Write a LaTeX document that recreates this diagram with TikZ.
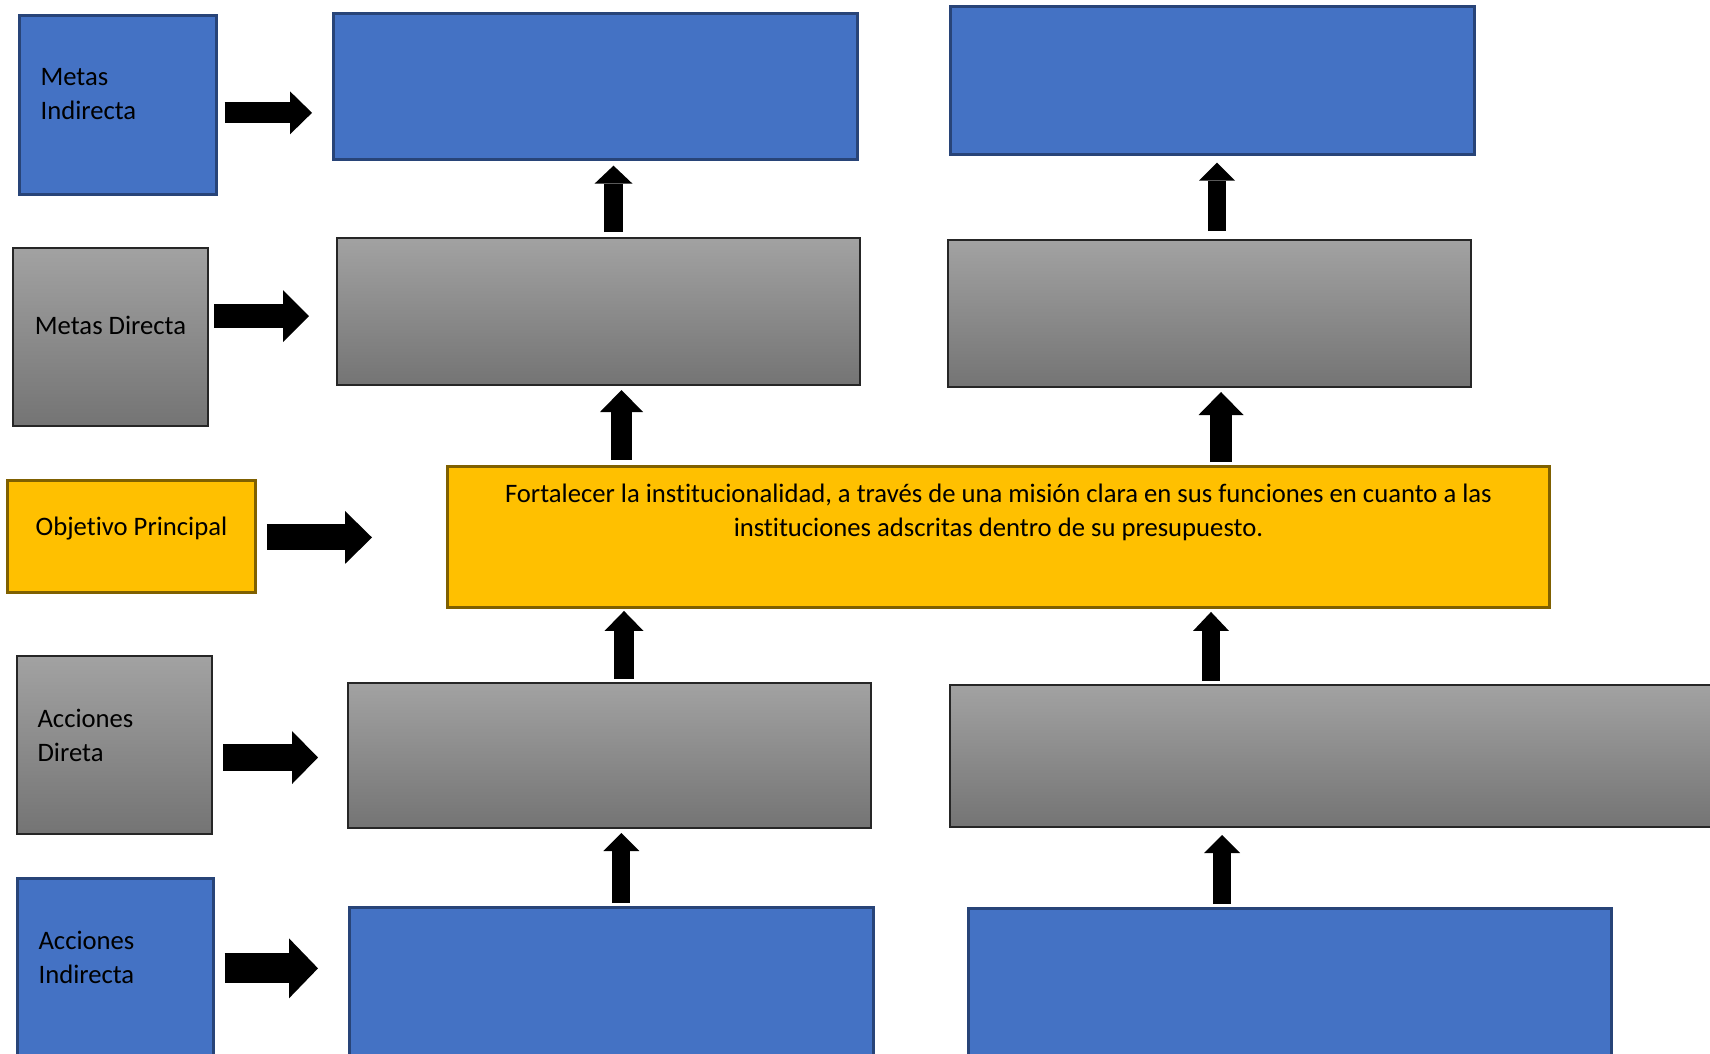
\documentclass[tikz,border=0pt]{standalone}
\usepackage{fontspec}
\setmainfont{Carlito}[Ligatures=NoCommon]
\usetikzlibrary{arrows.meta, positioning, calc}

\definecolor{boxblue}{RGB}{68,114,196}
\definecolor{blueline}{RGB}{40,68,120}
\definecolor{graytop}{RGB}{162,162,162}
\definecolor{graybot}{RGB}{116,116,116}
\definecolor{grayline}{RGB}{38,38,38}
\definecolor{objyellow}{RGB}{255,192,0}
\definecolor{objline}{RGB}{127,96,0}

% one unit = one pixel of the sketch = 0.375pt
\tikzset{
  boxsize/.style 2 args={minimum width=#1*0.375pt, minimum height=#2*0.375pt},
  bluebox/.style={draw=blueline, line width=1pt, fill=boxblue, anchor=north west, inner sep=0pt},
  graybox/.style={draw=grayline, line width=0.75pt, top color=graytop, bottom color=graybot, anchor=north west, inner sep=0pt},
  yellowbox/.style={draw=objline, line width=1.1pt, fill=objyellow, anchor=north west, inner sep=0pt},
  lbl/.style={font=\fontsize{10pt}{12.75pt}\selectfont, inner sep=0pt},
  gap/.style 2 args={shorten <=#1*0.375pt, shorten >=#2*0.375pt},
  blockarrow/.code n args={3}{%
    \pgfmathsetmacro\shaftw{#1*0.375}%
    \pgfmathsetmacro\headw{#2*0.375}%
    \pgfmathsetmacro\headl{#3*0.375}%
    \edef\next{\noexpand\tikzset{line width=\shaftw pt,
      -{Triangle[width=\headw pt, length=\headl pt, line width=0pt]}}}%
    \next}
}

\begin{document}
\begin{tikzpicture}[x=0.375pt, y=-0.375pt]
  \useasboundingbox (0,0) rectangle (1710,1053);

  % left column labels
  \node[bluebox, boxsize={197}{179}] (lblMI) at (18,14) {};
  \node[graybox, boxsize={195}{178}] (lblMD) at (12,247) {};
  \node[yellowbox, boxsize={248}{112}] (lblOP) at (6,479) {};
  \node[graybox, boxsize={195}{178}] (lblAD) at (16,655) {};
  \node[bluebox, boxsize={196}{180}] (lblAI) at (16,877) {};

  % base of a two-line label is its second line
  \node[lbl, anchor=base west, align=left] (tMI) at ($(lblMI.west)+(22,14.5)$) {Metas\\Indirecta};
  \node[lbl, anchor=base] (tMD) at ($(lblMD.center)+(0,-3)$) {Metas Directa};
  \node[lbl, anchor=base] (tOP) at ($(lblOP.center)+(0,-1)$) {Objetivo Principal};
  \node[lbl, anchor=base west, align=left] (tAD) at ($(lblAD.west)+(21,16)$) {Acciones\\Direta};
  \node[lbl, anchor=base west, align=left] (tAI) at ($(lblAI.west)+(22,15)$) {Acciones\\Indirecta};

  % tree boxes
  \node[bluebox, boxsize={524}{146}] (mi1) at (332,12) {};
  \node[bluebox, boxsize={524}{148}] (mi2) at (949,5) {};
  \node[graybox, boxsize={523}{147}] (md1) at (336,237) {};
  \node[graybox, boxsize={523}{147}] (md2) at (947,239) {};
  \node[yellowbox, boxsize={1102}{141}] (obj) at (446,465) {};
  \node[graybox, boxsize={523}{145}] (ad1) at (347,682) {};
  \node[graybox, boxsize={780}{142}] (ad2) at (949,684) {};
  \node[bluebox, boxsize={524}{160}] (ai1) at (348,906) {};
  \node[bluebox, boxsize={643}{160}] (ai2) at (967,907) {};

  \node[lbl, anchor=base, align=center] (tObj) at ($(obj.north)+(0,71)$)
    {Fortalecer la institucionalidad, a través de una misión clara en sus funciones en cuanto a las\\instituciones adscritas dentro de su presupuesto.};

  % label arrows
  \draw[blockarrow={21}{43}{22}, gap={7}{20}]
    ($(lblMI.east)+(0,8)$) -- ($(lblMI.east -| mi1.west)+(0,8)$);
  \draw[blockarrow={24}{52}{26}, gap={5}{27}]
    ($(lblMD.east)+(0,-21)$) -- ($(lblMD.east -| md1.west)+(0,-21)$);
  \draw[blockarrow={26}{53}{27}, gap={10}{74}]
    ($(lblOP.east)+(0,1)$) -- ($(lblOP.east -| obj.west)+(0,1)$);
  \draw[blockarrow={27}{53}{26}, gap={10}{29}]
    ($(lblAD.east)+(0,12.5)$) -- ($(lblAD.east -| ad1.west)+(0,12.5)$);
  \draw[blockarrow={30}{60}{29}, gap={10}{30}]
    (lblAI.east) -- (lblAI.east -| ai1.west);

  % upward arrows
  \draw[blockarrow={19}{38}{18}, gap={5}{5}]
    ($(md1.north)+(15,0)$) -- ($(md1.north |- mi1.south)+(15,0)$);
  \draw[blockarrow={18}{36}{18}, gap={8}{7}]
    ($(md2.north)+(7.5,0)$) -- ($(md2.north |- mi2.south)+(7.5,0)$);
  \draw[blockarrow={21}{43}{22}, gap={5}{4}]
    ($(md1.south |- obj.north)+(23,0)$) -- ($(md1.south)+(23,0)$);
  \draw[blockarrow={22}{45}{23}, gap={3}{4}]
    ($(md2.south |- obj.north)+(11.5,0)$) -- ($(md2.south)+(11.5,0)$);
  \draw[blockarrow={20}{39}{20}, gap={3}{2}]
    ($(ad1.north)+(14.5,0)$) -- ($(ad1.north |- obj.south)+(14.5,0)$);
  \draw[blockarrow={18}{36}{19}, gap={3}{3}]
    ($(md2.south |- ad2.north)+(1.5,0)$) -- ($(md2.south |- obj.south)+(1.5,0)$);
  \draw[blockarrow={18}{36}{18}, gap={3}{4}]
    ($(ai1.north)+(10,0)$) -- ($(ai1.north |- ad1.south)+(10,0)$);
  \draw[blockarrow={18}{36}{18}, gap={3}{7}]
    ($(md2.south |- ai2.north)+(12.5,0)$) -- ($(md2.south |- ad2.south)+(12.5,0)$);
\end{tikzpicture}
\end{document}
